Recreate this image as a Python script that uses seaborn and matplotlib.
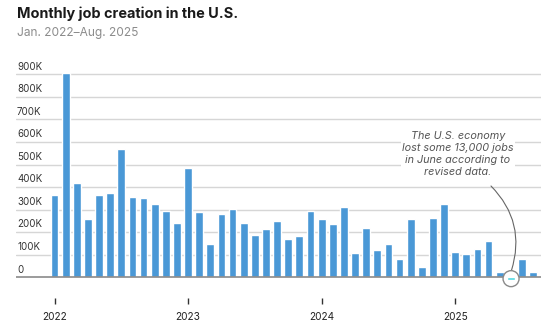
import matplotlib
matplotlib.use("Agg")
import matplotlib.pyplot as plt
from matplotlib.patches import Ellipse
import seaborn as sns
import pandas as pd

# Monthly change in nonfarm payrolls, thousands of jobs
jobs_2022 = [365, 907, 418, 258, 365, 374, 570, 356, 353, 325, 295, 241]
jobs_2023 = [486, 290, 149, 281, 304, 241, 186, 213, 250, 168, 185, 294]
jobs_2024 = [258, 236, 312, 108, 217, 121, 148, 81, 258, 46, 263, 323]
jobs_2025 = [112, 105, 124, 161, 22, -13, 83, 24]

years = [2022, 2023, 2024, 2025]
year_labels = ["2022", "2023", "2024", "2025"]
y_ticks = [0, 100, 200, 300, 400, 500, 600, 700, 800, 900]
y_tick_labels = ["0", "100K", "200K", "300K", "400K", "500K", "600K", "700K", "800K", "900K"]

values = jobs_2022 + jobs_2023 + jobs_2024 + jobs_2025
months = [f"{y}-{m:02d}" for y, series in zip(years, [jobs_2022, jobs_2023, jobs_2024, jobs_2025])
          for m in range(1, len(series) + 1)]
df = pd.DataFrame({"month": months, "jobs": values})

BLUE = "#4a98d6"
TEAL = "#4fd8e2"
colors = [TEAL if v < 0 else BLUE for v in values]

sns.set_theme(style="white")
plt.rcParams["font.family"] = ["Inter", "DejaVu Sans"]

W, H = 550, 333
fig = plt.figure(figsize=(W / 100, H / 100), dpi=100)

# plot geometry in pixels
base_px = 277.3      # y pixel of the zero line
px_per_k = 0.2256    # pixels per thousand jobs
ax_top_px, ax_bot_px = 63.0, 298.0
ax_left_px, ax_right_px = 16.0, 541.0
ymax = (base_px - ax_top_px) / px_per_k
ymin = -(ax_bot_px - base_px) / px_per_k

ax = fig.add_axes([ax_left_px / W, (H - ax_bot_px) / H,
                   (ax_right_px - ax_left_px) / W, (ax_bot_px - ax_top_px) / H])

sns.barplot(data=df, x="month", y="jobs", hue="month", palette=colors,
            legend=False, width=0.7, saturation=1, ax=ax, zorder=3)

# month index spacing: first bar centre at 54.5px, 11.13px per month
x0_px, step_px = 54.5, 11.13
ax.set_xlim((ax_left_px - x0_px) / step_px, (ax_right_px - x0_px) / step_px)
ax.set_ylim(ymin, ymax)

for s in ax.spines.values():
    s.set_visible(False)

# gridlines and labels
for t, lab in zip(y_ticks, y_tick_labels):
    if t == 0:
        ax.axhline(0, color="#8a8a8a", lw=1.2, zorder=4)
    else:
        ax.axhline(t, color="#d6d6d6", lw=1.0, zorder=1)
    ax.text(0.002, t + 12, lab, transform=ax.get_yaxis_transform(),
            ha="left", va="bottom", fontsize=7.0, color="#333333", zorder=5)

ax.set_yticks([])
ax.set_xticks([months.index(f"{y}-01") for y in years])
ax.set_xticklabels(year_labels, fontsize=7.3, color="#222222")
ax.tick_params(axis="x", length=4, width=1, color="#333333", pad=6, bottom=True)
ax.set_xlabel("")
ax.set_ylabel("")

# highlight the negative June 2025 reading
june_idx = months.index("2025-06")
for p in ax.patches:
    if abs(p.get_x() + p.get_width() / 2 - june_idx) < 0.01:
        p.set_zorder(7)
r_px = 8.0
circle = Ellipse((june_idx + 0.02, -6), width=2 * r_px / step_px,
                 height=2 * r_px / px_per_k, facecolor="white",
                 edgecolor="#8a8a8a", lw=1.0, zorder=6)
ax.add_patch(circle)

ax.annotate("", xy=(june_idx + 0.05, -6 + r_px / px_per_k),
            xytext=((491 - x0_px) / step_px, (base_px - 186) / px_per_k),
            arrowprops=dict(arrowstyle="-", color="#666666", lw=0.8,
                            connectionstyle="arc3,rad=-0.3", shrinkA=0, shrinkB=0),
            zorder=5)

ax.text((458 - x0_px) / step_px, (base_px - 154) / px_per_k,
        "The U.S. economy\nlost some 13,000 jobs\nin June according to\nrevised data.",
        ha="center", va="center", fontsize=7.8, style="italic", color="#555555",
        linespacing=1.25, zorder=5,
        bbox=dict(boxstyle="square,pad=0.1", facecolor="white", edgecolor="none"))

# title block
fig.text(17 / W, 1 - 14 / H, "Monthly job creation in the U.S.", fontsize=10.4,
         fontweight="bold", color="#1a1a1a", ha="left", va="center")
fig.text(17 / W, 1 - 33 / H, "Jan. 2022\u2013Aug. 2025", fontsize=8.6,
         color="#8c8c8c", ha="left", va="center")

fig.savefig("out.png", dpi=100)
